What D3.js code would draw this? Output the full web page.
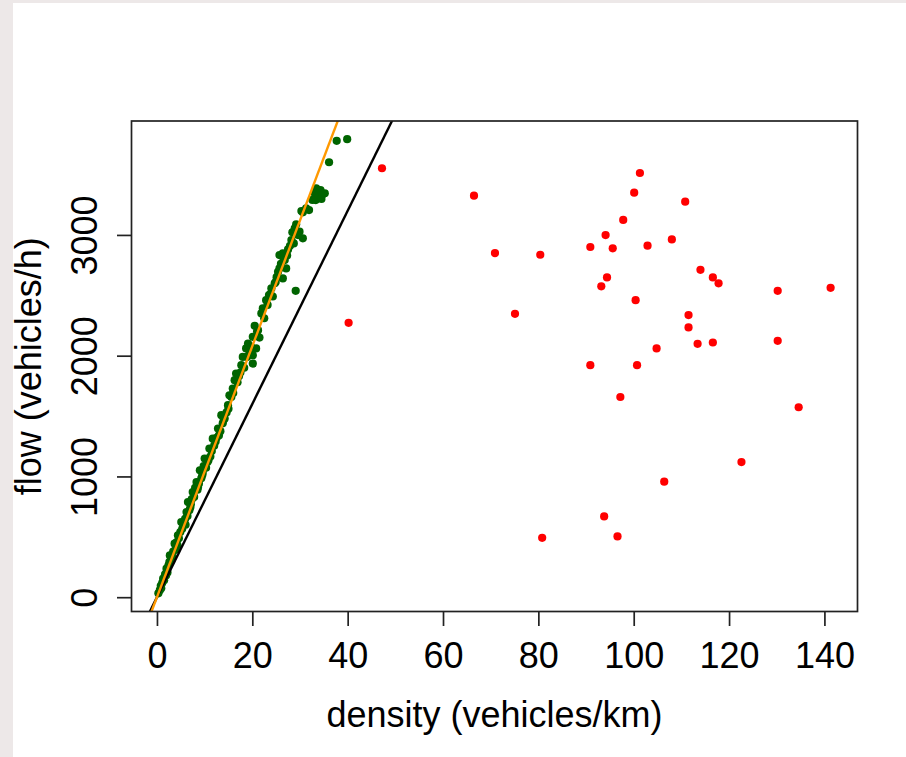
<!DOCTYPE html>
<html>
<head>
<meta charset="utf-8">
<script src="https://cdn.jsdelivr.net/npm/d3@7"></script>
<style>
	html, body { margin: 0; padding: 0; background: #fff; }
	text { font-family: "Liberation Sans", Arial, sans-serif; fill: #000; }
</style>
</head>
<body>
<div id="flow-chart"></div>
<script>
// free-flow observations (density veh/km, flow veh/h)
const freeDensity = [0.3, 0.6, 0.9, 1.1, 1.3, 1.5, 1.7, 2.0, 2.2, 2.4, 2.7, 2.9, 3.1, 3.4, 3.7, 3.9, 4.1, 4.4, 4.6, 4.9,
	5.1, 5.3, 5.6, 5.9, 6.2, 6.4, 6.5, 6.8, 7.1, 7.3, 7.5, 7.8, 8.0, 8.3, 8.5, 8.8, 9.0, 9.3, 9.6, 9.8,
	10.0, 10.3, 10.6, 11.0, 11.2, 11.5, 11.7, 12.0, 12.3, 12.8, 13.0, 13.3, 13.5, 13.8, 14.2, 14.6, 14.9, 15.2, 15.6, 15.9,
	16.3, 16.6, 16.9, 17.2, 17.7, 18.0, 18.3, 18.7, 19.1, 19.4, 19.7, 20.1, 20.1, 20.1, 20.5, 20.8, 21.2, 21.5, 21.9, 22.2,
	22.5, 22.9, 23.2, 23.5, 24.0, 24.3, 24.7, 25.1, 25.4, 25.7, 25.7, 26.0, 26.4, 26.4, 26.4, 26.8, 27.1, 27.5, 27.9, 28.2,
	28.4, 28.7, 28.9, 29.1, 29.2, 29.6, 29.9, 30.3, 30.6, 30.6, 31.3, 31.9, 33.1, 33.3, 33.4, 33.8, 34.0, 34.3, 34.5, 34.8,
	35.2, 36.1, 37.7, 39.9,
	0.8, 1.9, 2.6, 3.3, 4.3, 5.5, 6.0, 7.0, 8.6, 9.5, 10.8, 12.5, 14.0, 15.0, 16.0, 17.5, 18.9, 21.0, 23.8, 24.9, 27.3, 32.6];
const freeFlow = [32, 58, 75, 118, 153, 140, 190, 236, 205, 262, 346, 300, 322, 378, 443, 395, 455, 512, 488, 540,
	622, 566, 610, 648, 705, 672, 788, 720, 770, 812, 871, 830, 905, 954, 890, 940, 1051, 985, 1030, 1085,
	1148, 1072, 1120, 1231, 1165, 1210, 1313, 1255, 1290, 1396, 1340, 1375, 1507, 1440, 1480, 1530, 1590, 1672, 1658, 1728,
	1797, 1852, 1780, 1830, 1921, 1990, 1900, 2060, 2101, 2020, 2075, 2156, 2004, 1935, 2247, 2060, 2211, 2150, 2350, 2391,
	2310, 2460, 2420, 2502, 2557, 2490, 2600, 2650, 2695, 2723, 2833, 2760, 2640, 2819, 2847, 2792, 2723, 2880, 2910, 2958,
	3022, 2930, 3055, 2537, 3088, 2999, 3027, 3198, 3187, 2972, 3220, 3206, 3345, 3289, 3386, 3317, 3358, 3372, 3298, 3337,
	3345, 3602, 3779, 3793,
	95, 180, 290, 330, 430, 600, 600, 745, 910, 1010, 1135, 1320, 1470, 1560, 1690, 1860, 1990, 2200, 2510, 2610, 2830, 3290];

// congested observations
const congDensity = [40.2, 47.2, 66.5, 70.9, 75.1, 80.4, 80.8, 90.9, 90.9, 93.2, 93.8, 94.1, 94.4, 95.6, 96.6, 97.2, 97.8, 100.1, 100.4,
	100.7, 101.3, 102.9, 104.8, 106.4, 108.0, 110.8, 111.5, 111.5, 113.4, 114.0, 116.6, 116.6, 117.8, 122.6, 130.2, 130.2, 134.6, 141.3];
const congFlow = [2272, 3552, 3325, 2850, 2347, 2836, 492, 2900, 1921, 2574, 669, 2999, 2648, 2889, 503, 1658, 3124, 3350, 2460,
	1921, 3513, 2911, 2060, 957, 2963, 3275, 2336, 2234, 2098, 2711, 2648, 2109, 2599, 1119, 2537, 2123, 1573, 2562];

// reference lines: flow = intercept + slope * density
const lineIntercepts = [0, 0];
const lineSlopes = [80, 104];

const xTicks = [0, 20, 40, 60, 80, 100, 120, 140];
const yTicks = [0, 1000, 2000, 3000];

const settings = {
	width: 906,
	height: 757,
	left: 131.5,
	right: 857.5,
	top: 121,
	bottom: 611.5,
	font: 36,
	tick: 14.5,
	radius: 4.1
};

// R style 4% padding around the data range
function padded(values) {
	const [lo, hi] = d3.extent(values);
	const pad = (hi - lo) * 0.04;
	return [lo - pad, hi + pad];
}

const x = d3.scaleLinear()
	.domain(padded(freeDensity.concat(congDensity)))
	.range([settings.left, settings.right]);
const y = d3.scaleLinear()
	.domain(padded(freeFlow.concat(congFlow)))
	.range([settings.bottom, settings.top]);

const svg = d3.select('#flow-chart').append('svg')
	.attr('width', settings.width)
	.attr('height', settings.height)
	.style('display', 'block');

// window frame
svg.append('rect').attr('width', settings.width).attr('height', settings.height).attr('fill', '#ede8e8');
svg.append('rect').attr('x', 13).attr('y', 3).attr('width', settings.width - 13).attr('height', settings.height - 3).attr('fill', '#fff');

svg.append('clipPath').attr('id', 'plot-clip')
	.append('rect')
	.attr('x', settings.left)
	.attr('y', settings.top)
	.attr('width', settings.right - settings.left)
	.attr('height', settings.bottom - settings.top);

const plot = svg.append('g').attr('clip-path', 'url(#plot-clip)');

plot.selectAll('circle.free')
	.data(d3.zip(freeDensity, freeFlow))
	.enter().append('circle')
	.attr('class', 'free')
	.attr('cx', d => x(d[0]))
	.attr('cy', d => y(d[1]))
	.attr('r', settings.radius)
	.attr('fill', '#006400');

plot.selectAll('circle.cong')
	.data(d3.zip(congDensity, congFlow))
	.enter().append('circle')
	.attr('class', 'cong')
	.attr('cx', d => x(d[0]))
	.attr('cy', d => y(d[1]))
	.attr('r', settings.radius)
	.attr('fill', '#ff0000');

const lineColors = ['#000000', '#ff9900'];
const xd = x.domain();
lineSlopes.forEach((b, i) => {
	const a = lineIntercepts[i];
	plot.append('line')
		.attr('x1', x(xd[0])).attr('y1', y(a + b * xd[0]))
		.attr('x2', x(xd[1])).attr('y2', y(a + b * xd[1]))
		.attr('stroke', lineColors[i])
		.attr('stroke-width', 2.4);
});

// box
svg.append('rect')
	.attr('x', settings.left)
	.attr('y', settings.top)
	.attr('width', settings.right - settings.left)
	.attr('height', settings.bottom - settings.top)
	.attr('fill', 'none')
	.attr('stroke', '#222')
	.attr('stroke-width', 1.7);

const xAxis = svg.append('g')
	.attr('transform', `translate(0,${settings.bottom})`)
	.call(d3.axisBottom(x).tickValues(xTicks).tickFormat(d3.format('d'))
		.tickSize(settings.tick).tickSizeOuter(0).tickPadding(0));
xAxis.select('.domain').remove();
xAxis.selectAll('line').attr('stroke', '#222').attr('stroke-width', 1.7);
xAxis.selectAll('text')
	.attr('y', 56.5)
	.attr('dy', null)
	.attr('font-size', settings.font)
	.attr('font-family', '"Liberation Sans", Arial, sans-serif');

const yAxis = svg.append('g')
	.attr('transform', `translate(${settings.left},0)`)
	.call(d3.axisLeft(y).tickValues(yTicks).tickFormat(d3.format('d'))
		.tickSize(settings.tick).tickSizeOuter(0).tickPadding(0));
yAxis.select('.domain').remove();
yAxis.selectAll('line').attr('stroke', '#222').attr('stroke-width', 1.7);
yAxis.selectAll('text')
	.attr('x', null)
	.attr('dy', null)
	.attr('text-anchor', 'middle')
	.attr('transform', 'translate(-34.5,0) rotate(-90)')
	.attr('font-size', settings.font)
	.attr('font-family', '"Liberation Sans", Arial, sans-serif');

svg.append('text')
	.attr('x', (settings.left + settings.right) / 2)
	.attr('y', 727)
	.attr('text-anchor', 'middle')
	.attr('font-size', settings.font)
	.text('density (vehicles/km)');

svg.append('text')
	.attr('transform', `translate(41,${(settings.top + settings.bottom) / 2}) rotate(-90)`)
	.attr('text-anchor', 'middle')
	.attr('font-size', settings.font)
	.text('flow (vehicles/h)');
</script>
</body>
</html>
